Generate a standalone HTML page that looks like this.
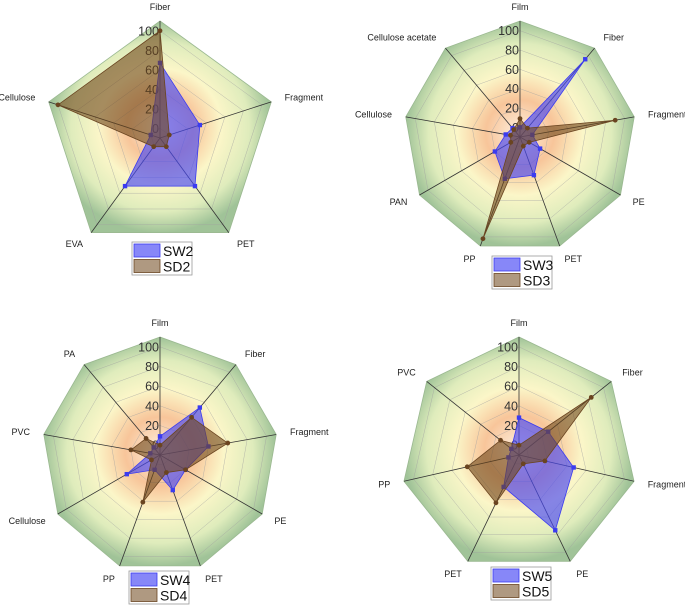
<!DOCTYPE html>
<html><head><meta charset="utf-8">
<style>
html,body{margin:0;padding:0;background:#fff;}
svg{display:block;font-family:"Liberation Sans",Arial,sans-serif;}
</style></head>
<body>
<svg id="s" width="685" height="605" viewBox="0 0 685 605">
<defs>
<radialGradient id="bg" cx="50%" cy="50%" r="50%">
<stop offset="0%" stop-color="#fdf0e0"/>
<stop offset="30%" stop-color="#f8c59a"/>
<stop offset="55%" stop-color="#fbf6c8"/>
<stop offset="80%" stop-color="#dfecbc"/>
<stop offset="100%" stop-color="#a0c398"/>
</radialGradient>
</defs>
</svg>
<script>
const ticks=[0,20,40,60,80,100];
const cats2=["Fiber","Fragment","PET","EVA","Cellulose"];
const sw2=[67,33,51,51,0];
const sd2=[100,0,1,1,100];
const cats3=["Film","Fiber","Fragment","PE","PET","PP","PAN","Cellulose","Cellulose acetate"];
const sw3=[0,95,3,14,32,36,20,5,2];
const sd3=[9,2,90,1,0,102,1,0,0];
const cats4=["Film","Fiber","Fragment","PE","PET","PP","Cellulose","PVC","PA"];
const sw4=[9,53,40,20,28,6,29,0,0];
const sd4=[0,40,60,20,9,41,0,20,12];
const cats5=["Film","Fiber","Fragment","PE","PET","PP","PVC"];
const sw5=[28,28,47,75,26,1,0];
const sd5=[0,84,17,0,44,44,14];

const NS="http://www.w3.org/2000/svg";
const svg=document.getElementById('s');
function mk(tag,attrs,parent){const e=document.createElementNS(NS,tag);for(const k in attrs)e.setAttribute(k,attrs[k]);(parent||svg).appendChild(e);return e;}

function radar(id,cx,cy,R,cats,sw,sd,swName,sdName,lx,ly){
  const g=mk('g',{});
  
  
  const n=cats.length;
  const rr=v=>(v+10)/120*R;
  const ang=i=>-Math.PI/2+i*2*Math.PI/n;
  const pt=(i,v)=>[cx+rr(v)*Math.cos(ang(i)),cy+rr(v)*Math.sin(ang(i))];
  const poly=v=>cats.map((c,i)=>pt(i,v).join(',')).join(' ');
  const bg=mk('polygon',{points:poly(110),fill:'url(#bg)',stroke:'#9ab890','stroke-width':0.8},g);
  
  
  ticks.forEach(t=>{const p=mk('polygon',{points:poly(t),fill:'none',stroke:'#a0a0a0','stroke-width':0.5,'stroke-opacity':0.7},g);
    
    });
  cats.forEach((c,i)=>{const [x,y]=pt(i,110);
    const l=mk('line',{x1:cx,y1:cy,x2:x,y2:y,stroke:'#333','stroke-width':0.8},g);
    
    
    const a=ang(i),d=R+14;
    const tx=cx+d*Math.cos(a),ty=cy+d*Math.sin(a)+3;
    const cs=Math.cos(a);
    const anchor=Math.abs(cs)<0.2?'middle':(cs>0?'start':'end');
    const t=mk('text',{x:tx,y:ty,'font-size':9,fill:'#222','text-anchor':anchor},g);
    t.textContent=c;
    
    });
  ticks.forEach(v=>{const t=mk('text',{x:cx-1,y:cy-rr(v)+4.5,'font-size':12.5,fill:'#333','text-anchor':'end'},g);
    t.textContent=v;
    
    });
  function series(vals,fill,stroke,shape,name){
    const p=mk('polygon',{points:vals.map((v,i)=>pt(i,v).join(',')).join(' '),fill:fill,stroke:stroke,'stroke-width':0.8},g);
    
    
    vals.forEach((v,i)=>{const [x,y]=pt(i,v);let m;
      if(shape==='sq')m=mk('rect',{x:x-2.2,y:y-2.2,width:4.4,height:4.4,fill:stroke},g);
      else m=mk('circle',{cx:x,cy:y,r:2.4,fill:stroke},g);
      
      });
  }
  series(sw,'rgba(70,70,245,0.65)','#3b3bf0','sq',swName.toLowerCase());
  series(sd,'rgba(110,70,25,0.6)','#6a4420','ci',sdName.toLowerCase());
  const lg=mk('g',{},g);
  
  
  mk('rect',{x:lx,y:ly,width:60,height:33,fill:'#fff',stroke:'#999','stroke-width':0.8},lg);
  [[swName,'rgba(70,70,245,0.65)','#3b3bf0'],[sdName,'rgba(110,70,25,0.55)','#6a4420']].forEach((e,k)=>{
    const r=mk('rect',{x:lx+2,y:ly+2+k*15.5,width:26,height:13,fill:e[1],stroke:e[2],'stroke-width':0.8},lg);
    
    
    const t=mk('text',{x:lx+31,y:ly+14+k*15.5,'font-size':14,fill:'#111'},lg);
    t.textContent=e[0];
    
    });
}
radar('radar-chart-2',160,138,117,cats2,sw2,sd2,'SW2','SD2',132,242);
radar('radar-chart-3',520,137,116,cats3,sw3,sd3,'SW3','SD3',492,256);
radar('radar-chart-4',160,455,118,cats4,sw4,sd4,'SW4','SD4',129,571);
radar('radar-chart-5',519,455,118,cats5,sw5,sd5,'SW5','SD5',491,567);
</script>
</body></html>
